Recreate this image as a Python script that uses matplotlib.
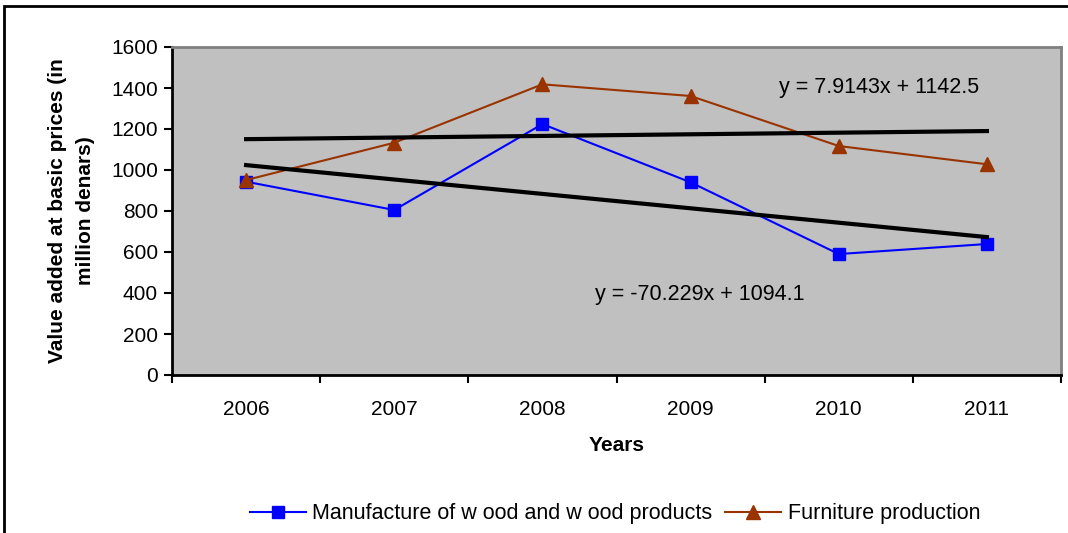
import numpy as np
import matplotlib
matplotlib.use('Agg')
import matplotlib.pyplot as plt
from matplotlib.patches import Rectangle

plt.rcParams['font.family'] = ['Liberation Sans', 'DejaVu Sans']

# data
years = ['2006', '2007', '2008', '2009', '2010', '2011']
wood = [943, 805, 1224, 940, 590, 639]
furniture = [951, 1133, 1418, 1361, 1117, 1028]

# linear trendlines as printed on the chart (x = 1..6)
wood_trend = (-70.229, 1094.1)
furn_trend = (7.9143, 1142.5)
wood_label = 'y = -70.229x + 1094.1'
furn_label = 'y = 7.9143x + 1142.5'

yticks = [0, 200, 400, 600, 800, 1000, 1200, 1400, 1600]

fig = plt.figure(figsize=(10.68, 5.33), dpi=100)
ax = fig.add_axes([172/1068, 1 - 375/533, 889/1068, 328/533])
ax.set_facecolor('#C0C0C0')

x = np.arange(len(years))
xn = x + 1

ax.plot(x, wood, color='#0000FF', lw=1.5, marker='s', ms=9,
        label='Manufacture of w ood and w ood products', zorder=3)
ax.plot(x, furniture, color='#993300', lw=1.5, marker='^', ms=10.5,
        label='Furniture production', zorder=3)

ax.plot(x, furn_trend[0] * xn + furn_trend[1], color='black', lw=3, zorder=4)
ax.plot(x, wood_trend[0] * xn + wood_trend[1], color='black', lw=3, zorder=4)

ax.text(3.6, 1400, furn_label, fontsize=15.5, ha='left', va='center')
ax.text(2.355, 395, wood_label, fontsize=15.5, ha='left', va='center')

ax.set_xlim(-0.5, 5.5)
ax.set_ylim(0, 1600)
ax.set_yticks(yticks)
ax.set_xticks(x)
ax.set_xticklabels(years)
ax.set_xticks(np.arange(-0.5, 6, 1), minor=True)
ax.tick_params(axis='x', which='major', length=0, pad=18, labelsize=15)
ax.tick_params(axis='x', which='minor', length=6, width=1.5, direction='out')
ax.tick_params(axis='y', length=6, width=1.5, direction='out', labelsize=15, pad=4)

for s in ['top', 'right']:
    ax.spines[s].set_color('#808080')
    ax.spines[s].set_linewidth(2)
for s in ['left', 'bottom']:
    ax.spines[s].set_color('black')
    ax.spines[s].set_linewidth(2)

ax.set_xlabel('Years', fontsize=15, fontweight='bold', labelpad=12)
ax.set_ylabel('Value added at basic prices (in\nmillion denars)', fontsize=15,
              fontweight='bold', labelpad=12, linespacing=1.6)

fig.legend(loc='center', bbox_to_anchor=(615/1068, 1 - 514/533), ncol=2,
           frameon=False, fontsize=15.5, handlelength=2.6, columnspacing=0.6,
           handletextpad=0.3)

# outer chart border
fig.patches.append(Rectangle((4/1068, -0.05), 1.1, 1 - 6/533 + 0.05,
                             transform=fig.transFigure, fill=False,
                             edgecolor='black', lw=2))

fig.savefig('out.png', dpi=100)
